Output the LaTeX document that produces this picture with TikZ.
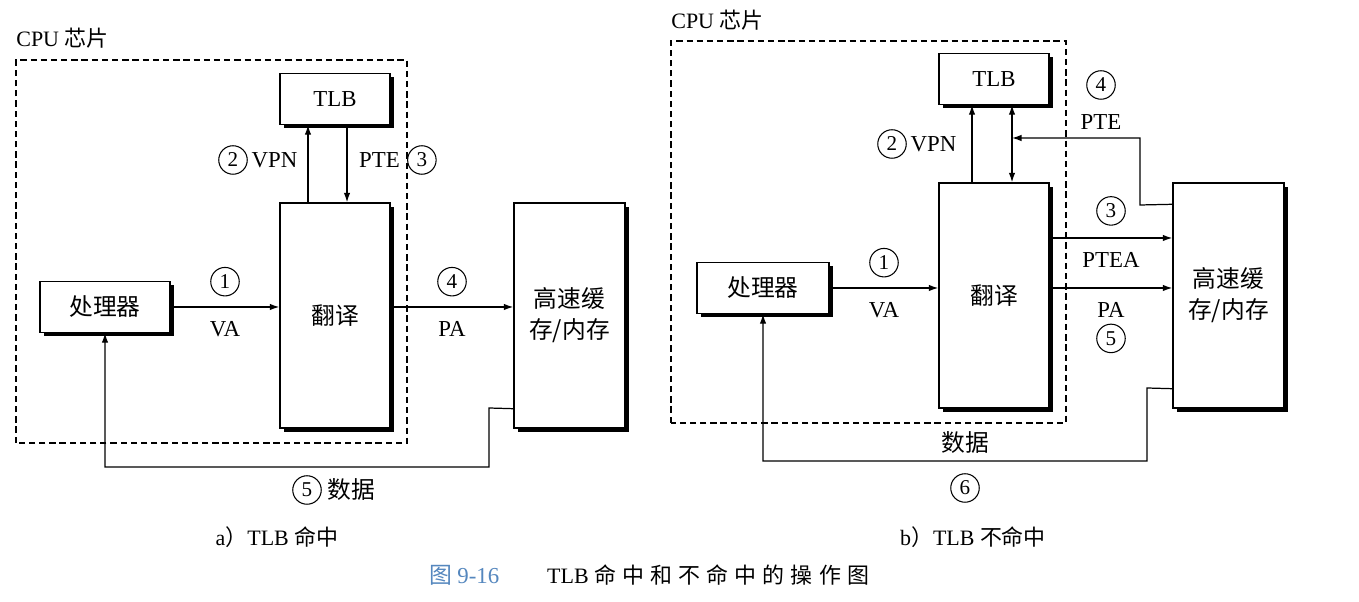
\documentclass[tikz,border=0pt]{standalone}
\usepackage{fontspec}
\setmainfont{Liberation Serif}
\newfontfamily\cjk{Noto Sans CJK SC}
\newfontfamily\cjkwide[LetterSpace=28]{Noto Sans CJK SC}
\usepackage{xcolor}
\usepackage{tikz}
\usetikzlibrary{
  arrows.meta, positioning, calc, shadows
}
\definecolor{capblue}{RGB}{85,135,190}
\tikzset{
  unitbox/.style={
    draw, line width=0.8pt, fill=white, align=center,
    font=\fontsize{13.5}{17.5}\selectfont\cjk, inner sep=2pt,
    drop shadow={shadow xshift=2pt, shadow yshift=-2pt,
      fill=black, opacity=1}
  },
  chipframe/.style={
    draw, line width=0.9pt, dash pattern=on 3.6pt off 2.2pt
  },
  chiplabel/.style={
    font=\fontsize{12.5}{15}\selectfont, inner sep=0pt
  },
  flowarrow/.style={
    -{Latex[length=1.9mm, width=1.3mm]}, line width=0.7pt
  },
  flowboth/.style={
    {Latex[length=1.9mm, width=1.3mm]}-{Latex[length=1.9mm, width=1.3mm]},
    line width=0.7pt
  },
  flowlabel/.style={
    font=\fontsize{13}{15}\selectfont, inner sep=1pt
  },
  stepmark/.style={
    circle, draw, line width=0.6pt, inner sep=0pt,
    minimum size=0.57cm, font=\fontsize{12}{13}\selectfont
  },
  sublabel/.style={
    font=\fontsize{12.5}{14}\selectfont
  },
}

\begin{document}
\begin{tikzpicture}[
  smallbox/.style={unitbox, minimum width=2.2cm, minimum height=1.02cm},
  tallbox/.style={unitbox, minimum width=2.2cm, minimum height=4.5cm},
]
  \useasboundingbox (0,0) rectangle (27.18,12.04);

  % --- TLB hit ---
  \node[chiplabel, anchor=west] (chipA) at (0.32,11.28) {CPU {\cjk 芯片}};
  \draw[chipframe] (0.32,3.18) rectangle (8.14,10.84);

  \node[smallbox, font=\fontsize{13}{17}\selectfont] (tlbA) at (6.70,10.06) {TLB};
  \node[tallbox] (transA) at (6.70,5.73) {翻译};
  \node[smallbox, minimum width=2.6cm] (procA) at (2.10,5.90) {处理器};
  \node[tallbox, minimum width=2.22cm] (memA) at (11.39,5.73) {高速缓\\存/内存};

  \draw[flowarrow] (procA.east) --
    node[stepmark, above=6pt] (s1A) {1}
    node[flowlabel, below=7pt] (vaA) {VA} (procA.east -| transA.west);
  \draw[flowarrow] ([xshift=-0.54cm]transA.north) -- ([xshift=-0.54cm]tlbA.south);
  \draw[flowarrow] ([xshift=0.24cm]tlbA.south) -- ([xshift=0.24cm]transA.north);
  \draw[flowarrow] (procA.east -| transA.east) --
    node[stepmark, above=6pt] (s4A) {4}
    node[flowlabel, below=7pt] (paA) {PA} (procA.east -| memA.west);

  \node[stepmark] (s2A) at (4.66,8.84) {2};
  \node[flowlabel, right=1pt of s2A] (vpnA) {VPN};
  \node[flowlabel, anchor=west] (pteA) at (7.14,8.84) {PTE};
  \node[stepmark, right=3pt of pteA] (s3A) {3};

  \draw[flowarrow] ([yshift=0.4cm]memA.south west) -- (9.78,3.88)
    -- (9.78,2.70) -| (procA.south);
  \node[stepmark] (s5A) at (6.14,2.24) {5};
  \node[flowlabel, right=2pt of s5A, font=\fontsize{13.5}{15}\selectfont\cjk] (dataA) {数据};

  \node[sublabel] (capA) at (5.54,1.30) {a{\cjk ）}TLB {\cjk 命中}};

  % --- TLB miss ---
  \node[chiplabel, anchor=west] (chipB) at (13.42,11.64) {CPU {\cjk 芯片}};
  \draw[chipframe] (13.42,3.58) rectangle (21.32,11.22);

  \node[smallbox, font=\fontsize{13}{17}\selectfont] (tlbB) at (19.88,10.46) {TLB};
  \node[tallbox] (transB) at (19.88,6.13) {翻译};
  \node[smallbox, minimum width=2.64cm] (procB) at (15.26,6.28) {处理器};
  \node[tallbox, minimum width=2.22cm] (memB) at (24.57,6.13) {高速缓\\存/内存};

  \draw[flowarrow] (procB.east) --
    node[stepmark, above=6pt] (s1B) {1}
    node[flowlabel, below=7pt] (vaB) {VA} (procB.east -| transB.west);
  \draw[flowarrow] ([xshift=-0.44cm]transB.north) -- ([xshift=-0.44cm]tlbB.south);
  \draw[flowboth] ([xshift=0.36cm]transB.north) -- ([xshift=0.36cm]tlbB.south);
  \node[stepmark] (s2B) at (17.84,9.16) {2};
  \node[flowlabel, right=1pt of s2B] (vpnB) {VPN};

  \coordinate (tapB) at (20.24,9.28);
  \draw[flowarrow] ([yshift=-0.44cm]memB.north west) -- (22.80,7.94)
    -- (22.80,9.28) -- (tapB);
  \node[flowlabel] (pteB) at (22.02,9.60) {PTE};
  \node[stepmark] (s4B) at (22.02,10.34) {4};

  \draw[flowarrow] ([yshift=1.15cm]transB.east) --
    node[stepmark, above=7pt] (s3B) {3}
    node[flowlabel, below=7pt] (pteaB) {PTEA} ([yshift=1.15cm]memB.west);
  \draw[flowarrow] (procB.east -| transB.east) --
    node[flowlabel, below=7pt] (paB) {PA} (procB.east -| memB.west);
  \node[stepmark, below=2pt of paB] (s5B) {5};

  \draw[flowarrow] ([yshift=0.4cm]memB.south west) -- (22.94,4.28)
    -- (22.94,2.82) -| (procB.south);
  \node[flowlabel, font=\fontsize{13.5}{15}\selectfont\cjk] (dataB) at (19.30,3.18) {数据};
  \node[stepmark] (s6B) at (19.30,2.28) {6};

  \node[sublabel] (capB) at (19.46,1.30) {b{\cjk ）}TLB {\cjk 不命中}};

  % Figure caption
  \node[anchor=west, text=capblue, font=\fontsize{13}{15}\selectfont] (fignum)
    at (8.46,0.54) {{\cjk 图}\hspace{3pt}9-16};
  \node[anchor=west, font=\fontsize{12.5}{15}\selectfont] (figtitle)
    at (10.82,0.54) {TLB {\cjkwide 命中和不命中的操作图}};
\end{tikzpicture}
\end{document}
